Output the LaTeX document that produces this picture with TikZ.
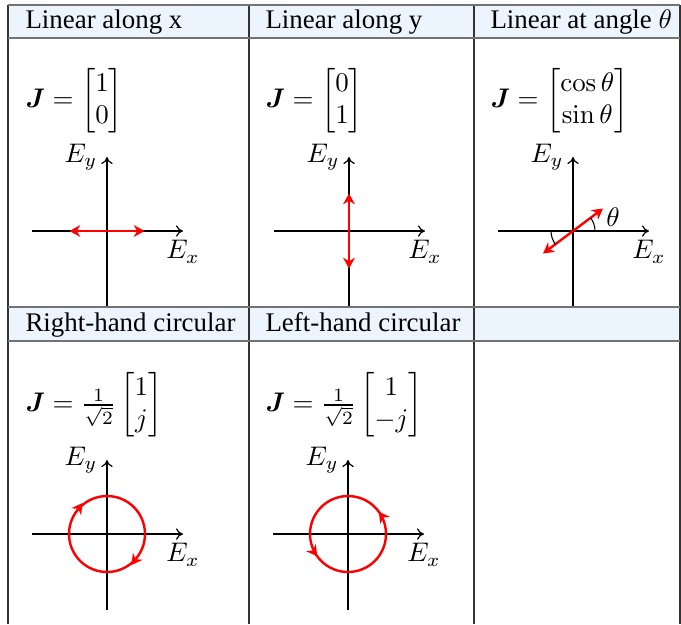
\documentclass[tikz,border=0pt]{standalone}
\usepackage{amsmath}
\usepackage[no-math]{fontspec}
\setmainfont{Liberation Serif}
\usetikzlibrary{decorations.markings,arrows.meta}
\definecolor{hdrfill}{RGB}{236,244,253}
\newcommand{\drawaxes}[1]{%
  \coordinate (#1xl) at (-75,0);
  \coordinate (#1xr) at (76,0);
  \coordinate (#1yb) at (0,-76);
  \coordinate (#1yt) at (0,74);
  \draw[axis] (#1xl) -- (#1xr) node[below, name=#1ex] {$E_x$};
  \draw[axis] (#1yb) -- (#1yt) node[left, name=#1ey] {$E_y$};
}
\begin{document}
\begin{tikzpicture}[x=0.3717pt,y=-0.3717pt,
  hdr/.style={anchor=base west, inner sep=0pt},
  eqn/.style={anchor=west, inner sep=0pt},
  axis/.style={-{To[length=2.6pt,width=4.2pt]}, line width=0.45pt},
  pol/.style={red, line width=0.9pt},
  redtip/.tip={Stealth[length=4pt,width=4.4pt,inset=1.3pt]},
  tablerule/.style={black!55, line width=0.75pt},
  vline/.style={black!80, line width=0.45pt}]
\useasboundingbox (0,0) rectangle (681,624);
\fill[hdrfill] (8,5) rectangle (680,38);
\fill[hdrfill] (8,307) rectangle (680,341);
% headers
\node[hdr] (h1) at (25,28) {Linear along x};
\node[hdr] (h2) at (265,28) {Linear along y};
\node[hdr] (h3) at (490,28) {Linear at angle $\theta$};
\node[hdr] (h4) at (25,331) {Right-hand circular};
\node[hdr] (h5) at (265,331) {Left-hand circular};
% equations
\node[eqn] (e1) at (25,101) {$\boldsymbol{J} = \begin{bmatrix}1\\0\end{bmatrix}$};
\node[eqn] (e2) at (265,101) {$\boldsymbol{J} = \begin{bmatrix}0\\1\end{bmatrix}$};
\node[eqn] (e3) at (490,101) {$\boldsymbol{J} = \begin{bmatrix}\cos\theta\\ \sin\theta\end{bmatrix}$};
\node[eqn] (e4) at (25,405) {$\boldsymbol{J} = \frac{1}{\sqrt{2}}\begin{bmatrix}1\\j\end{bmatrix}$};
\node[eqn] (e5) at (265,405) {$\boldsymbol{J} = \frac{1}{\sqrt{2}}\begin{bmatrix}1\\-j\end{bmatrix}$};
% cell 1
\begin{scope}[shift={(107,231)}, yscale=-1]
  \drawaxes{a}
  \coordinate (ap1) at (-37.5,0); \coordinate (ap2) at (37.5,0);
  \draw[pol,{redtip}-{redtip}] (ap1) -- (ap2);
\end{scope}
% cell 2
\begin{scope}[shift={(349,231)}, yscale=-1]
  \drawaxes{b}
  \coordinate (bp1) at (0,-37.5); \coordinate (bp2) at (0,37.5);
  \draw[pol,{redtip}-{redtip}] (bp1) -- (bp2);
\end{scope}
% cell 3
\begin{scope}[shift={(573,231)}, yscale=-1]
  \drawaxes{c}
  \coordinate (cp1) at (-30,-22.5); \coordinate (cp2) at (30,22.5);
  \draw[pol,{redtip}-{redtip}] (cp1) -- (cp2);
  \draw[line width=0.4pt] (22,0) arc[start angle=0, end angle=37, radius=22];
  \draw[line width=0.4pt] (-22,0) arc[start angle=180, end angle=217, radius=22];
  \node (th) at (40,14) {$\theta$};
\end{scope}
% cell 4
\begin{scope}[shift={(107,534)}, yscale=-1]
  \drawaxes{d}
  \draw[pol, postaction={decorate}, decoration={markings,
     mark=at position 0.4 with {\arrow{redtip[reversed]}},
     mark=at position 0.9 with {\arrow{redtip[reversed]}}}] (0,0) circle[radius=38];
\end{scope}
% cell 5
\begin{scope}[shift={(348,534)}, yscale=-1]
  \drawaxes{e}
  \draw[pol, postaction={decorate}, decoration={markings,
     mark=at position 0.1 with {\arrow{redtip}},
     mark=at position 0.6 with {\arrow{redtip}}}] (0,0) circle[radius=38];
\end{scope}
% table lines
\foreach \x in {8,249,474,680} \draw[vline] (\x,5) -- (\x,624);
\foreach \y in {5,38,307,341} \draw[tablerule] (8,\y) -- (680,\y);
\end{tikzpicture}
\end{document}
